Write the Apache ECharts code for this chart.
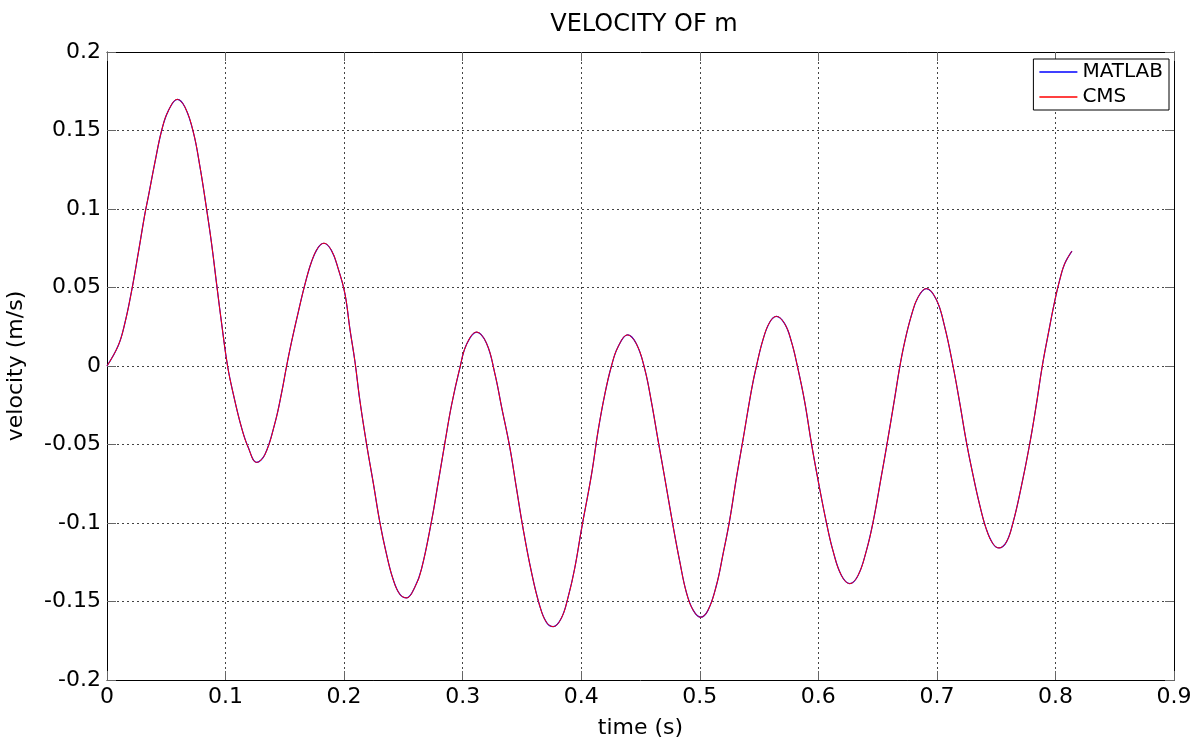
<!DOCTYPE html>
<html>
<head>
<meta charset="utf-8">
<title>VELOCITY OF m</title>
<script src="https://cdn.jsdelivr.net/npm/echarts@6/dist/echarts.min.js"></script>
<style>
  html, body { margin: 0; padding: 0; background: #fff; }
  #chart { width: 1203px; height: 742px; }
</style>
</head>
<body>
<div id="chart"></div>
<script>
// 时间 / s
const timeValues = [
  0, 0.0095, 0.0152, 0.0208, 0.0264, 0.032, 0.0349, 0.0405, 0.0461, 0.0517, 0.0593, 0.0658,
  0.0728, 0.0784, 0.084, 0.0882, 0.0925, 0.0967, 0.1017, 0.1065, 0.1135, 0.1191, 0.1262, 0.1332,
  0.1417, 0.1473, 0.1515, 0.1557, 0.1613, 0.1669, 0.1726, 0.1782, 0.183, 0.1894, 0.195, 0.2007,
  0.2049, 0.2091, 0.2133, 0.219, 0.2246, 0.2302, 0.2358, 0.2414, 0.2471, 0.2527, 0.2597, 0.2653,
  0.2738, 0.2794, 0.285, 0.2906, 0.2977, 0.3033, 0.3117, 0.3201, 0.3272, 0.3328, 0.3398, 0.3454,
  0.351, 0.358, 0.3651, 0.3707, 0.3763, 0.3833, 0.389, 0.3946, 0.4002, 0.4087, 0.4143, 0.4199,
  0.4255, 0.4311, 0.439, 0.4466, 0.4536, 0.4592, 0.4648, 0.4705, 0.4775, 0.4831, 0.4887, 0.4944,
  0.5008, 0.507, 0.514, 0.5197, 0.5253, 0.5309, 0.5365, 0.5436, 0.5478, 0.5534, 0.559, 0.5646,
  0.5717, 0.5773, 0.5823, 0.5885, 0.5941, 0.5998, 0.6068, 0.6124, 0.6194, 0.6265, 0.6335, 0.6405,
  0.6462, 0.6532, 0.6582, 0.6644, 0.6687, 0.6729, 0.6785, 0.6841, 0.6911, 0.6996, 0.7065, 0.7136,
  0.7192, 0.7248, 0.7304, 0.7361, 0.7417, 0.7473, 0.7524, 0.7586, 0.7642, 0.7712, 0.7782, 0.7839,
  0.7889, 0.7937, 0.7993, 0.8035, 0.8077, 0.8139
];

// 速度 / (m/s)：MATLAB 结果
const matlabVelocity = [
  0, 0.013, 0.0277, 0.048, 0.072, 0.097, 0.108, 0.13, 0.15, 0.1625, 0.1698, 0.1648,
  0.149, 0.127, 0.1, 0.078, 0.052, 0.027, 0, -0.0177, -0.0393, -0.0518, -0.0614, -0.0564,
  -0.0362, -0.017, 0, 0.0155, 0.0342, 0.0518, 0.0666, 0.0756, 0.0782, 0.0735, 0.062, 0.046,
  0.0235, 0.003, -0.022, -0.05, -0.0745, -0.0998, -0.12, -0.136, -0.1455, -0.1477, -0.1408, -0.1292,
  -0.0985, -0.074, -0.049, -0.025, -0.001, 0.0138, 0.0216, 0.0145, -0.005, -0.026, -0.052, -0.078,
  -0.1037, -0.1312, -0.153, -0.1633, -0.166, -0.1605, -0.147, -0.1285, -0.104, -0.069, -0.041, -0.018,
  0, 0.0122, 0.0198, 0.014, -0.002, -0.0228, -0.0472, -0.0715, -0.102, -0.1245, -0.1442, -0.1555,
  -0.16, -0.1555, -0.1398, -0.1195, -0.0978, -0.0712, -0.0468, -0.0153, 0, 0.017, 0.0279, 0.0316,
  0.0268, 0.0155, 0, -0.0228, -0.049, -0.0728, -0.0997, -0.1178, -0.1333, -0.1386, -0.1334, -0.1177,
  -0.0993, -0.07, -0.0485, -0.0205, -0.0005, 0.0155, 0.0322, 0.0438, 0.0493, 0.0422, 0.0252, 0,
  -0.0232, -0.048, -0.0692, -0.0885, -0.1039, -0.1132, -0.1159, -0.1122, -0.0998, -0.0768, -0.05, -0.0245,
  0, 0.0195, 0.041, 0.0545, 0.065, 0.0732
];

// 速度 / (m/s)：CMS 结果（与 MATLAB 曲线重合）
const cmsVelocity = matlabVelocity.slice();

const seriesNames = ["MATLAB", "CMS"];
const FONT = "DejaVu Sans, Liberation Sans, sans-serif";

const toPairs = (values) => timeValues.map((t, i) => [t, values[i]]);

const chart = echarts.init(document.getElementById("chart"));

const gridLine = { show: true, lineStyle: { color: "#444", type: [2, 3], width: 1 } };
const boxLine = { show: true, onZero: false, lineStyle: { color: "#000", width: 1 } };
const innerTick = { show: true, inside: true, length: 9, lineStyle: { color: "#666" } };

const option = {
  backgroundColor: "#fff",
  animation: false,
  title: {
    text: "VELOCITY OF m",
    left: 639,
    top: 8,
    textAlign: "center",
    textStyle: { fontFamily: FONT, fontSize: 24, fontWeight: "normal", color: "#000" },
  },
  legend: {
    data: seriesNames,
    orient: "vertical",
    right: 34,
    top: 59,
    icon: "rect",
    itemWidth: 38,
    itemHeight: 1.5,
    itemGap: 5,
    padding: [3, 6, 3, 6],
    borderColor: "#000",
    borderWidth: 1,
    backgroundColor: "#fff",
    textStyle: { fontFamily: FONT, fontSize: 20, color: "#000", padding: [0, 0, 0, 0] },
  },
  grid: { left: 107, right: 29, top: 52, bottom: 62, outerBoundsMode: "none" },
  xAxis: [
    {
      type: "value",
      min: 0,
      max: 0.9,
      interval: 0.1,
      name: "time (s)",
      nameLocation: "middle",
      nameGap: 37,
      nameTextStyle: { fontFamily: FONT, fontSize: 22, color: "#000" },
      axisLine: boxLine,
      axisTick: innerTick,
      axisLabel: { fontFamily: FONT, fontSize: 22, color: "#000", margin: 6 },
      splitLine: gridLine,
    },
    {
      type: "value",
      position: "top",
      min: 0,
      max: 0.9,
      interval: 0.1,
      axisLine: boxLine,
      axisTick: innerTick,
      axisLabel: { show: false },
      splitLine: { show: false },
    },
  ],
  yAxis: [
    {
      type: "value",
      min: -0.2,
      max: 0.2,
      interval: 0.05,
      name: "velocity (m/s)",
      nameLocation: "middle",
      nameGap: 80,
      nameTextStyle: { fontFamily: FONT, fontSize: 22, color: "#000" },
      axisLine: boxLine,
      axisTick: innerTick,
      axisLabel: { fontFamily: FONT, fontSize: 22, color: "#000", margin: 6 },
      splitLine: gridLine,
    },
    {
      type: "value",
      position: "right",
      min: -0.2,
      max: 0.2,
      interval: 0.05,
      axisLine: boxLine,
      axisTick: innerTick,
      axisLabel: { show: false },
      splitLine: { show: false },
    },
  ],
  series: [
    {
      name: seriesNames[0],
      type: "line",
      symbol: "none",
      smooth: 0.4,
      itemStyle: { color: "#0000ff" },
      lineStyle: { color: "#0000ff", width: 1.2 },
      data: toPairs(matlabVelocity),
      z: 2,
    },
    {
      name: seriesNames[1],
      type: "line",
      symbol: "none",
      smooth: 0.4,
      itemStyle: { color: "#ff0000" },
      lineStyle: { color: "#ff0000", width: 1 },
      data: toPairs(cmsVelocity),
      z: 3,
    },
  ],
};

chart.setOption(option);
</script>
</body>
</html>
